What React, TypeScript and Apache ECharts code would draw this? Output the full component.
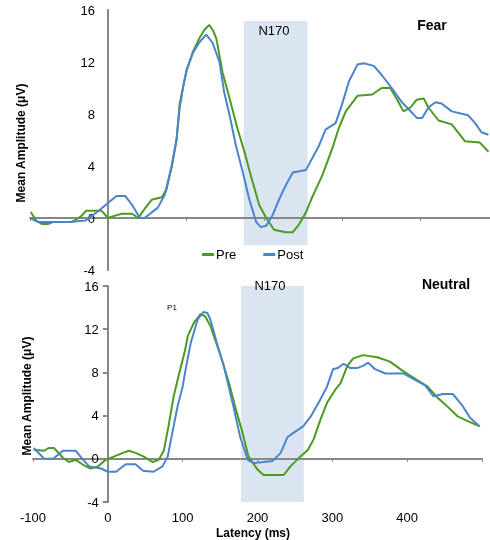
import React, { useEffect, useRef } from "react";
import * as echarts from "echarts";

// Fear condition (latency ms / amplitude µV)
const fearPreX = [-99, -92, -85, -77, -70, -46, -35, -28, -8, 0, 10, 18, 31, 39, 47, 56, 69, 75, 82, 88, 92, 101, 109, 117, 124, 130, 135, 139, 147, 156, 166, 175, 184, 194, 203, 213, 228, 237, 245, 254, 262, 275, 288, 296, 305, 320, 339, 351, 362, 371, 379, 388, 396, 405, 411, 424, 441, 458, 477, 488];
const fearPreY = [0.46, -0.2, -0.46, -0.46, -0.3, -0.3, 0.1, 0.55, 0.55, 0, 0.2, 0.33, 0.33, 0, 0.7, 1.4, 1.6, 2.2, 4.0, 6.0, 8.8, 11.4, 12.8, 13.8, 14.5, 14.85, 14.4, 13.8, 11.2, 9.2, 6.9, 5.1, 3.1, 1.0, 0, -0.9, -1.1, -1.1, -0.5, 0.45, 1.6, 3.3, 5.4, 6.9, 8.2, 9.4, 9.5, 10.0, 10.0, 9.1, 8.2, 8.5, 9.1, 9.2, 8.5, 7.5, 7.2, 5.9, 5.8, 5.1];
const fearPostX = [-100, -90, -50, -29, -13, 0, 11, 22, 31, 41, 47, 64, 73, 82, 88, 92, 97, 101, 109, 117, 126, 134, 143, 149, 156, 164, 173, 181, 190, 196, 203, 211, 220, 228, 237, 254, 262, 271, 279, 292, 300, 309, 320, 328, 341, 351, 364, 377, 390, 396, 403, 411, 420, 428, 441, 462, 471, 479, 488];
const fearPostY = [0, -0.3, -0.3, -0.2, 0.5, 1.15, 1.7, 1.7, 1.0, 0, 0, 0.8, 1.8, 4.1, 6.1, 8.5, 10.3, 11.4, 12.7, 13.5, 14.1, 13.5, 12.0, 9.7, 7.9, 5.6, 3.5, 1.5, -0.3, -0.7, -0.6, 0.2, 1.5, 2.5, 3.5, 3.7, 4.6, 5.6, 6.8, 7.3, 8.7, 10.5, 11.8, 11.9, 11.7, 11.0, 10.0, 8.9, 8.1, 7.7, 7.7, 8.5, 8.9, 8.8, 8.2, 7.9, 7.3, 6.6, 6.4];

// Neutral condition
const neutralPreX = [-99, -85, -79, -72, -60, -52, -43, -32, -23, -13, -3, 8, 20, 28, 37, 48, 60, 68, 75, 81, 88, 95, 103, 107, 115, 124, 130, 137, 151, 162, 171, 180, 188, 200, 208, 235, 244, 257, 267, 275, 284, 293, 304, 311, 320, 328, 341, 360, 377, 395, 413, 427, 440, 453, 468, 484, 497];
const neutralPreY = [0.84, 0.75, 1.0, 1.0, 0.1, -0.3, -0.1, -0.6, -0.9, -0.7, -0.1, 0.2, 0.55, 0.75, 0.55, 0.2, -0.3, -0.1, 0.8, 3.0, 5.8, 7.8, 10.0, 11.4, 12.6, 13.4, 13.2, 12.3, 9.5, 7.0, 4.6, 2.4, 0.2, -1.0, -1.5, -1.5, -0.7, 0.2, 0.8, 1.8, 3.6, 5.2, 6.4, 7.0, 8.6, 9.3, 9.6, 9.4, 9.0, 8.1, 7.3, 6.7, 5.7, 4.9, 3.9, 3.4, 3.0];
const neutralPostX = [-99, -85, -73, -60, -43, -33, -25, -9, 0, 11, 24, 37, 47, 61, 73, 80, 87, 93, 100, 104, 111, 120, 128, 133, 137, 147, 155, 168, 177, 187, 195, 208, 220, 231, 240, 248, 261, 271, 284, 293, 301, 307, 315, 324, 333, 341, 348, 357, 371, 395, 408, 424, 435, 448, 461, 473, 484, 497];
const neutralPostY = [1.0, 0, 0, 0.75, 0.75, -0.1, -0.7, -0.9, -1.2, -1.2, -0.5, -0.5, -1.1, -1.2, -0.7, 0.2, 2.7, 4.8, 6.7, 8.3, 10.8, 12.9, 13.6, 13.5, 12.9, 10.4, 8.6, 4.8, 2.0, -0.1, -0.4, -0.3, -0.2, 0.55, 2.0, 2.4, 3.0, 3.9, 5.5, 6.7, 8.3, 8.4, 8.8, 8.4, 8.4, 8.6, 8.9, 8.3, 7.9, 7.9, 7.4, 6.8, 5.8, 6.0, 6.0, 5.0, 3.8, 3.0];

// N170 window [startMs, endMs, topµV, bottomµV]
const fearWindow = [174, 256, 15.15, -2.1];
const neutralWindow = [178, 262, 17.1, -4.25];

const yTicks = { min: -4, max: 16, interval: 4 };
const xTicks = { min: -100, interval: 100 };

const GREEN = "#4d9a21";
const BLUE = "#4a85cc";
const AXIS = "#878787";
const FONT = "Liberation Sans, Arial, sans-serif";

const zip = (xs: number[], ys: number[]) => xs.map((x, i) => [x, ys[i]]);

export default function App() {
  const ref = useRef<HTMLDivElement>(null);
  useEffect(() => {
    if (!ref.current) return;
    const chart = echarts.init(ref.current, undefined, { renderer: "svg" });
    const axisLine = { onZero: true, lineStyle: { color: AXIS, width: 2 } };
    const area = (w: number[]) => ({
      silent: true,
      itemStyle: { color: "#dbe5f1" },
      data: [[{ xAxis: w[0], yAxis: w[2] }, { xAxis: w[1], yAxis: w[3] }]],
    });
    const line = (name: string, color: string, xi: number, yi: number, data: number[][], mark?: any) => ({
      name,
      type: "line",
      xAxisIndex: xi,
      yAxisIndex: yi,
      data,
      symbol: "none",
      clip: false,
      z: 4,
      lineStyle: { color, width: 2 },
      itemStyle: { color },
      markArea: mark,
    });
    const topLeft = 30, topW = 460, botLeft = 33, botW = 449;
    // place the y axes at latency 0 using the axis offset
    const topOffset = -((0 - xTicks.min) / (490 - xTicks.min)) * topW;
    const botOffset = -((0 - xTicks.min) / (500 - xTicks.min)) * botW;
    chart.setOption({
      animation: false,
      textStyle: { fontFamily: FONT },
      grid: [
        { left: topLeft, width: topW, top: 10, height: 260 },
        { left: botLeft, width: botW, top: 286, height: 216 },
      ],
      legend: {
        data: ["Pre", "Post"],
        left: 197,
        top: 243,
        icon: "rect",
        itemWidth: 12,
        itemHeight: 3,
        itemGap: 27,
        textStyle: { fontSize: 13, color: "#000", fontFamily: FONT, padding: [0, 0, 0, -3] },
      },
      xAxis: [
        {
          gridIndex: 0, type: "value", min: xTicks.min, max: 490, interval: xTicks.interval, z: 3,
          axisLine, axisTick: { show: true, length: 3, lineStyle: { color: AXIS } },
          axisLabel: { show: false }, splitLine: { show: false },
        },
        {
          gridIndex: 1, type: "value", min: xTicks.min, max: 500, interval: xTicks.interval, z: 3,
          axisLine, axisTick: { show: true, length: 3, lineStyle: { color: AXIS } },
          axisLabel: { show: false }, splitLine: { show: false },
        },
        {
          gridIndex: 1, type: "value", position: "bottom", min: xTicks.min, max: 500, interval: xTicks.interval,
          axisLine: { show: false, onZero: false }, axisTick: { show: false },
          axisLabel: { fontSize: 13, color: "#000", showMaxLabel: false, margin: 9 }, splitLine: { show: false },
        },
      ],
      yAxis: [
        {
          gridIndex: 0, type: "value", ...yTicks, z: 3, position: "left", offset: topOffset,
          axisLine: { onZero: false, lineStyle: { color: AXIS, width: 2 } }, axisTick: { show: false },
          axisLabel: { fontSize: 13, color: "#000", margin: 13 }, splitLine: { show: false },
        },
        {
          gridIndex: 1, type: "value", ...yTicks, z: 3, position: "left", offset: botOffset,
          axisLine: { onZero: false, lineStyle: { color: AXIS, width: 2 } },
          axisTick: { show: true, length: 5, lineStyle: { color: AXIS, width: 2 } },
          axisLabel: { fontSize: 13, color: "#000", margin: 9 }, splitLine: { show: false },
        },
      ],
      series: [
        line("Pre", GREEN, 0, 0, zip(fearPreX, fearPreY), area(fearWindow)),
        line("Post", BLUE, 0, 0, zip(fearPostX, fearPostY)),
        line("Pre", GREEN, 1, 1, zip(neutralPreX, neutralPreY), area(neutralWindow)),
        line("Post", BLUE, 1, 1, zip(neutralPostX, neutralPostY)),
      ],
      graphic: [
        { type: "text", x: 21, y: 143, rotation: Math.PI / 2, style: { text: "Mean Amplitude (μV)", font: `bold 12px ${FONT}`, fill: "#000", textAlign: "center", textVerticalAlign: "middle" } },
        { type: "text", x: 27, y: 396, rotation: Math.PI / 2, style: { text: "Mean Amplitude (μV)", font: `bold 12px ${FONT}`, fill: "#000", textAlign: "center", textVerticalAlign: "middle" } },
        { type: "text", x: 253, y: 533, style: { text: "Latency (ms)", font: `bold 12px ${FONT}`, fill: "#000", textAlign: "center", textVerticalAlign: "middle" } },
        { type: "text", x: 432, y: 25, style: { text: "Fear", font: `bold 14px ${FONT}`, fill: "#000", textAlign: "center", textVerticalAlign: "middle" } },
        { type: "text", x: 446, y: 284, style: { text: "Neutral", font: `bold 14px ${FONT}`, fill: "#000", textAlign: "center", textVerticalAlign: "middle" } },
        { type: "text", x: 274, y: 30, z: 10, style: { text: "N170", font: `13px ${FONT}`, fill: "#000", textAlign: "center", textVerticalAlign: "middle" } },
        { type: "text", x: 270, y: 285, z: 10, style: { text: "N170", font: `13px ${FONT}`, fill: "#000", textAlign: "center", textVerticalAlign: "middle" } },
        { type: "text", x: 172, y: 307, style: { text: "P1", font: `8px ${FONT}`, fill: "#000", textAlign: "center", textVerticalAlign: "middle" } },
      ],
    });
    return () => chart.dispose();
  }, []);
  return <div ref={ref} style={{ position: "fixed", left: 0, top: 0, width: 490, height: 540 }} />;
}
